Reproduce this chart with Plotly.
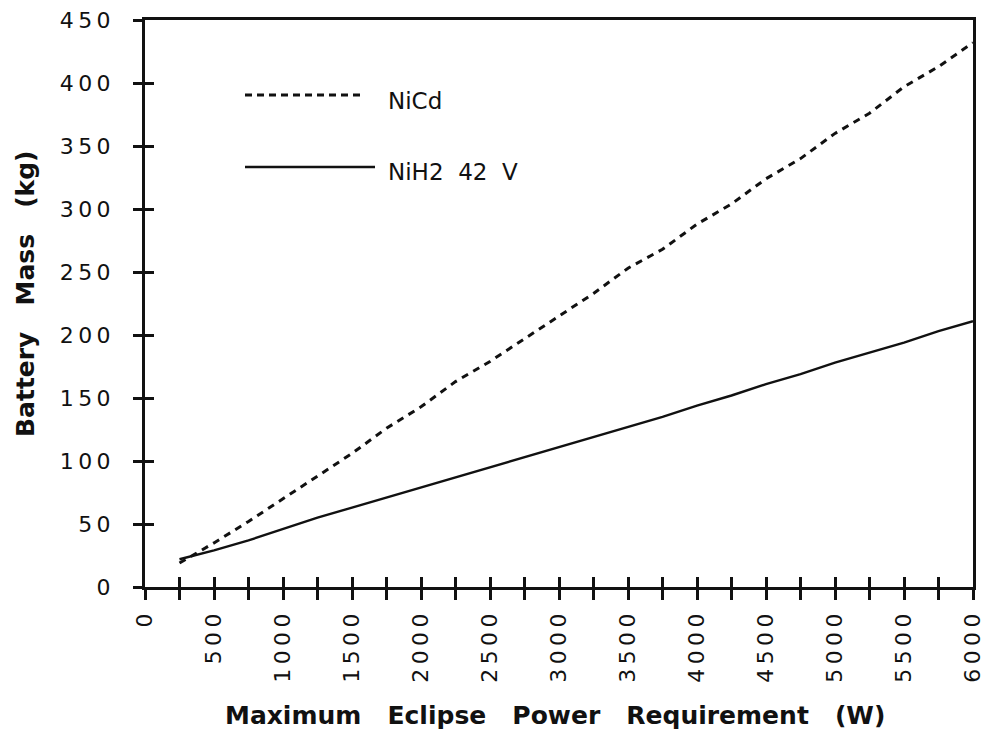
import plotly.graph_objects as go

power_w = [250, 500, 750, 1000, 1250, 1500, 1750, 2000, 2250, 2500, 2750, 3000,
           3250, 3500, 3750, 4000, 4250, 4500, 4750, 5000, 5250, 5500, 5750, 6000]
nicd_kg = [19, 35, 52, 70, 88, 106, 126, 143, 163, 179, 197, 215,
           233, 253, 268, 288, 304, 324, 340, 360, 376, 397, 413, 432]
nih2_kg = [22, 29, 37, 46, 55, 63, 71, 79, 87, 95, 103, 111,
           119, 127, 135, 144, 152, 161, 169, 178, 186, 194, 203, 211]

x_tick_vals = [0, 500, 1000, 1500, 2000, 2500, 3000, 3500, 4000, 4500, 5000, 5500, 6000]
x_tick_labels = ["0", "500", "1000", "1500", "2000", "2500", "3000", "3500",
                 "4000", "4500", "5000", "5500", "6000"]
y_tick_vals = [0, 50, 100, 150, 200, 250, 300, 350, 400, 450]
y_tick_labels = ["0", "50", "100", "150", "200", "250", "300", "350", "400", "450"]

series_names = ["NiCd", "NiH2 42 V"]
x_title = "Maximum Eclipse Power Requirement (W)"
y_title = "Battery Mass (kg)"

SP = "\u2009"
NB = "\u00a0"


def spaced(s):
    return SP.join(list(s))


def wide(s, n=3):
    return (NB * n).join(s.split(" "))


FONT = "DejaVu Sans, Verdana, sans-serif"
BLACK = "#111111"

ML, MR, MT, MB = 145, 11, 20, 151

fig = go.Figure()
fig.add_trace(go.Scatter(x=power_w, y=nicd_kg, mode="lines", name=series_names[0],
                         line=dict(color=BLACK, width=3, dash="7px,6px"),
                         showlegend=False))
fig.add_trace(go.Scatter(x=power_w, y=nih2_kg, mode="lines", name=series_names[1],
                         line=dict(color=BLACK, width=2.4),
                         showlegend=False))
# invisible trace to activate the overlay axes used for crossing ticks
fig.add_trace(go.Scatter(x=power_w, y=nih2_kg, mode="lines", xaxis="x2", yaxis="y2",
                         line=dict(color="rgba(0,0,0,0)", width=0),
                         hoverinfo="skip", showlegend=False))

axis_common = dict(showgrid=False, zeroline=False)

fig.update_layout(
    width=984, height=738,
    margin=dict(l=ML, r=MR, t=MT, b=MB, autoexpand=False),
    paper_bgcolor="white", plot_bgcolor="white",
    font=dict(family=FONT, color=BLACK),
    xaxis=dict(range=[0, 6000], tickvals=x_tick_vals,
               ticktext=[spaced(t) for t in x_tick_labels],
               tickangle=-90, ticks="outside", ticklen=10, tickwidth=2.5,
               tickcolor=BLACK, ticklabeloverflow="allow",
               minor=dict(dtick=250, ticks="outside", ticklen=10, tickwidth=2.5,
                          tickcolor=BLACK),
               showline=True, linewidth=2.5, linecolor=BLACK, mirror=True,
               tickfont=dict(size=22, family=FONT, color=BLACK),
               ticklabelstandoff=5,
               **axis_common),
    yaxis=dict(range=[0, 450], tickvals=y_tick_vals,
               ticktext=[spaced(t) for t in y_tick_labels],
               ticks="outside", ticklen=9, tickwidth=2.5, tickcolor=BLACK,
               ticklabeloverflow="allow",
               showline=True, linewidth=3, linecolor=BLACK, mirror=True,
               tickfont=dict(size=22, family=FONT, color=BLACK),
               ticklabelstandoff=18,
               **axis_common),
    xaxis2=dict(range=[0, 6000], overlaying="x",
                tickvals=x_tick_vals, showticklabels=False,
                ticks="inside", ticklen=10, tickwidth=2.5, tickcolor=BLACK,
                minor=dict(dtick=250, ticks="inside", ticklen=10, tickwidth=2.5,
                           tickcolor=BLACK),
                showline=False, **axis_common),
    yaxis2=dict(range=[0, 450], overlaying="y", tickvals=y_tick_vals,
                showticklabels=False, ticks="inside", ticklen=9, tickwidth=2.5,
                tickcolor=BLACK, showline=False, **axis_common),
    showlegend=False,
)

pw = 984 - ML - MR
ph = 738 - MT - MB


def px_x(p):
    return (p - ML) / pw


def px_y(p):
    return 1 - (p - MT) / ph


# axis titles
fig.add_annotation(text="<b>" + wide(x_title, 3) + "</b>", xref="paper", yref="paper",
                   x=px_x(555), y=px_y(715), xanchor="center", yanchor="middle",
                   showarrow=False, font=dict(size=25, family=FONT, color=BLACK))
fig.add_annotation(text="<b>" + wide(y_title, 3) + "</b>", xref="paper", yref="paper",
                   x=px_x(25), y=px_y(294), xanchor="center", yanchor="middle",
                   textangle=-90,
                   showarrow=False, font=dict(size=25, family=FONT, color=BLACK))

# legend drawn as shapes + text (paper coordinates)
fig.add_shape(type="line", xref="paper", yref="paper",
              x0=px_x(245), x1=px_x(365), y0=px_y(95), y1=px_y(95),
              line=dict(color=BLACK, width=3, dash="7px,5px"))
fig.add_shape(type="line", xref="paper", yref="paper",
              x0=px_x(245), x1=px_x(375), y0=px_y(167), y1=px_y(167),
              line=dict(color=BLACK, width=2.4))
fig.add_annotation(text=series_names[0], xref="paper", yref="paper",
                   x=px_x(386), y=px_y(101), xanchor="left", yanchor="middle",
                   showarrow=False, font=dict(size=23, family=FONT, color=BLACK))
fig.add_annotation(text=wide(series_names[1], 2), xref="paper", yref="paper",
                   x=px_x(386), y=px_y(172), xanchor="left", yanchor="middle",
                   showarrow=False, font=dict(size=23, family=FONT, color=BLACK))

fig.write_html("out.html", config={"displayModeBar": False},
               post_script="document.body.style.margin='0';"
                           "document.body.style.overflow='hidden';")
